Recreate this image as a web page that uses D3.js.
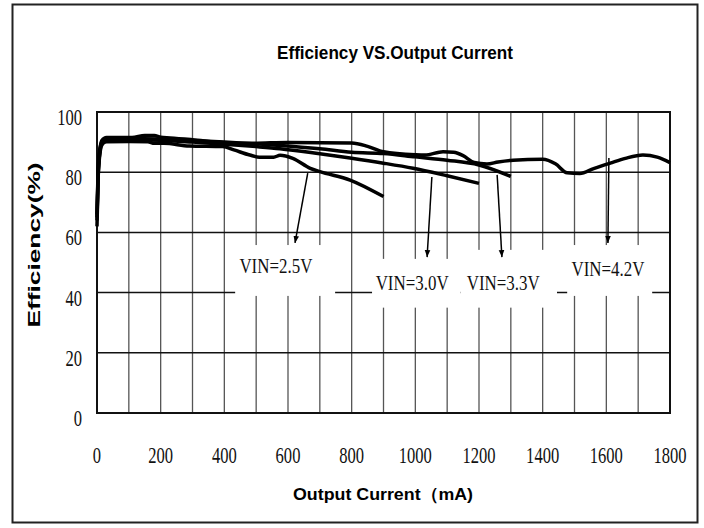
<!DOCTYPE html>
<html>
<head>
<meta charset="utf-8">
<script src="https://cdn.jsdelivr.net/npm/d3@7"></script>
<style>
  html, body { margin: 0; padding: 0; background: #fff; }
  svg { display: block; }
</style>
</head>
<body>
<svg id="chart" width="704" height="528"></svg>
<script>
// ---------------- data ----------------
const xTicks = [0, 200, 400, 600, 800, 1000, 1200, 1400, 1600, 1800];
const yTicks = [0, 20, 40, 60, 80, 100];
const gridX = d3.range(0, 1801, 100);

const vin25 = [[0,65],[3,78],[8,86],[15,89.3],[30,90.1],[100,90.2],[160,90.1],[180,89.6],[210,89.6],[290,88.7],[395,88.5],[430,87.4],[480,85.7],[510,85.0],[555,85.0],[575,85.6],[615,84.6],[670,81.3],[700,80.2],[795,77.4],[900,71.9]];
const vin30 = [[0,64],[3,77],[8,85],[15,89],[30,90.5],[100,90.8],[200,90.6],[300,90.0],[400,89.3],[500,88.5],[575,87.8],[700,86.1],[795,84.7],[900,83.0],[993,81.3],[1100,78.8],[1200,76.3]];
const vin33 = [[0,66],[3,79],[8,87],[15,90],[30,91],[100,91.2],[200,91],[300,90.5],[400,90],[500,89.4],[575,88.9],[700,87.8],[800,86.6],[900,86.2],[1000,85.1],[1100,84.0],[1200,82.4],[1300,78.6]];
const vin42 = [[0,62],[3,76],[8,86],[15,90.5],[30,91.5],[110,91.5],[150,92.2],[180,92.2],[200,91.6],[230,91.4],[300,90.8],[400,89.8],[490,89.6],[600,89.9],[800,89.7],[850,88.6],[900,86.8],[1000,85.8],[1030,85.7],[1087,86.8],[1120,86.6],[1150,85.5],[1185,83.2],[1225,82.7],[1260,83.4],[1307,84.0],[1400,84.3],[1440,82.8],[1477,79.8],[1517,79.6],[1560,81.2],[1612,83.0],[1660,84.6],[1715,85.7],[1760,85.0],[1800,83.2]];
const seriesList = [vin25, vin30, vin33, vin42];

const labelTexts = ["VIN=2.5V", "VIN=3.0V", "VIN=3.3V", "VIN=4.2V"];
// label centre (mA, %)
const labelAt = [[562, 49.2], [990, 43.5], [1276, 43.5], [1605, 48.2]];
// arrow from curve (mA, %) to label (mA, %)
const arrowFrom = [[662, 79.7], [1052, 78.4], [1257, 79.1], [1608, 84.7]];
const arrowTo = [[622, 56.5], [1037, 51.8], [1272, 51.8], [1605, 56.5]];
// white boxes behind labels: [mA0, mA1, %top, %bottom]
const boxes = [[434, 748, 55.8, 38.9], [864, 1142, 51.2, 35.0], [1142, 1445, 54.2, 35.0], [1477, 1744, 55.8, 38.9]];

const titleText = "Efficiency VS.Output Current";
const xTitle = "Output Current（mA)";
const yTitle = "Efficiency(%)";

// ---------------- chart ----------------
const svg = d3.select("#chart");
const x = d3.scaleLinear().domain([0, 1800]).range([97, 670]);
const y = d3.scaleLinear().domain([0, 100]).range([413, 112]);

// outer frame
svg.append("rect").attr("x", 12.5).attr("y", 4.5).attr("width", 685).attr("height", 518)
  .attr("fill", "none").attr("stroke", "#222").attr("stroke-width", 2);

// title
svg.append("text").attr("x", 395).attr("y", 59).attr("text-anchor", "middle")
  .attr("font-family", "Liberation Sans, Arial, sans-serif").attr("font-weight", "bold")
  .attr("font-size", 18).attr("textLength", 236).attr("lengthAdjust", "spacingAndGlyphs")
  .text(titleText);

// grid
const g = svg.append("g");
g.selectAll("line.vx").data(gridX).join("line")
  .attr("x1", d => x(d)).attr("x2", d => x(d)).attr("y1", y(0)).attr("y2", y(100))
  .attr("stroke", "#555").attr("stroke-width", 1.3);
g.selectAll("line.hy").data(yTicks).join("line")
  .attr("x1", x(0)).attr("x2", x(1800)).attr("y1", d => y(d)).attr("y2", d => y(d))
  .attr("stroke", "#111").attr("stroke-width", 1.5);
g.append("rect").attr("x", x(0)).attr("y", y(100)).attr("width", x(1800) - x(0)).attr("height", y(0) - y(100))
  .attr("fill", "none").attr("stroke", "#111").attr("stroke-width", 2);

// white boxes
svg.selectAll("rect.box").data(boxes).join("rect")
  .attr("x", d => x(d[0])).attr("y", d => y(d[2]))
  .attr("width", d => x(d[1]) - x(d[0])).attr("height", d => y(d[3]) - y(d[2]))
  .attr("fill", "#fff");

// curves
const line = d3.line().x(d => x(d[0])).y(d => y(d[1])).curve(d3.curveMonotoneX);
svg.selectAll("path.curve").data(seriesList).join("path")
  .attr("d", line).attr("fill", "none").attr("stroke", "#000")
  .attr("stroke-width", 3.5).attr("stroke-linejoin", "round").attr("stroke-linecap", "butt");

// arrows
svg.append("defs").append("marker").attr("id", "ah").attr("viewBox", "0 0 10 10")
  .attr("refX", 10).attr("refY", 5).attr("markerWidth", 7).attr("markerHeight", 7)
  .attr("markerUnits", "userSpaceOnUse").attr("orient", "auto")
  .append("path").attr("d", "M0,1 L10,5 L0,9 Z").attr("fill", "#000");
svg.selectAll("line.arrow").data(arrowFrom).join("line")
  .attr("x1", d => x(d[0])).attr("y1", d => y(d[1]))
  .attr("x2", (d, i) => x(arrowTo[i][0])).attr("y2", (d, i) => y(arrowTo[i][1]))
  .attr("stroke", "#000").attr("stroke-width", 1.5).attr("marker-end", "url(#ah)");

// labels
svg.selectAll("text.vin").data(labelTexts).join("text")
  .attr("x", (d, i) => x(labelAt[i][0])).attr("y", (d, i) => y(labelAt[i][1]) + 8)
  .attr("text-anchor", "middle")
  .attr("font-family", "Liberation Serif, Times New Roman, serif").attr("font-size", 22)
  .attr("textLength", 73).attr("lengthAdjust", "spacingAndGlyphs").attr("fill", "#111")
  .text(d => d);

// y tick labels
svg.selectAll("text.yt").data(yTicks).join("text")
  .attr("transform", d => `translate(82,${y(d) + 13}) scale(0.72,1)`)
  .attr("text-anchor", "end")
  .attr("font-family", "Liberation Serif, Times New Roman, serif").attr("font-size", 23)
  .attr("fill", "#111").text(d => d);

// x tick labels
svg.selectAll("text.xt").data(xTicks).join("text")
  .attr("transform", d => `translate(${x(d)},463) scale(0.72,1)`)
  .attr("text-anchor", "middle")
  .attr("font-family", "Liberation Serif, Times New Roman, serif").attr("font-size", 23)
  .attr("fill", "#111").text(d => d);

// axis titles
svg.append("text").attr("x", 383).attr("y", 500).attr("text-anchor", "middle")
  .attr("font-family", "Liberation Sans, Arial, sans-serif").attr("font-weight", "bold")
  .attr("font-size", 17).attr("textLength", 180).attr("lengthAdjust", "spacingAndGlyphs")
  .text(xTitle);
svg.append("text").attr("transform", "translate(40,245) rotate(-90)").attr("text-anchor", "middle")
  .attr("font-family", "Liberation Sans, Arial, sans-serif").attr("font-weight", "bold")
  .attr("font-size", 16).attr("textLength", 165).attr("lengthAdjust", "spacingAndGlyphs")
  .text(yTitle);
</script>
</body>
</html>
